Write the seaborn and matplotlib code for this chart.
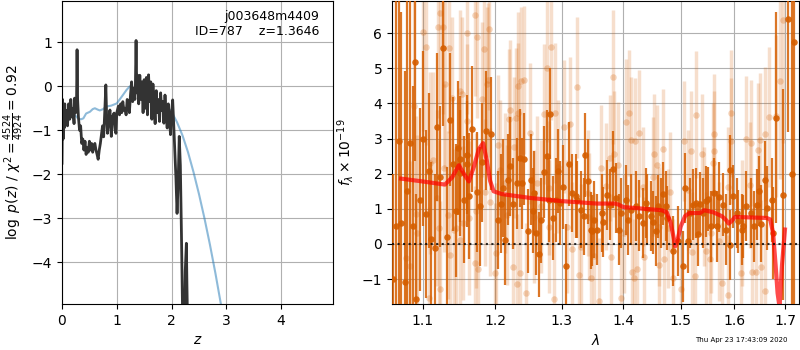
import numpy as np
import matplotlib
matplotlib.use('Agg')
import matplotlib.pyplot as plt
from matplotlib.ticker import FormatStrFormatter, NullLocator
import seaborn as sns

# p(z) panel
z_grid = [0.0, 0.01, 0.02, 0.03, 0.04, 0.05, 0.06, 0.08, 0.10, 0.12, 0.14, 0.16, 0.18, 0.20,
          0.22, 0.23, 0.25, 0.265, 0.275, 0.285, 0.30, 0.32, 0.34, 0.36, 0.38, 0.40, 0.42,
          0.44, 0.46, 0.48, 0.50, 0.52, 0.54, 0.56, 0.58, 0.60, 0.62, 0.64, 0.66, 0.68, 0.70,
          0.72, 0.74, 0.76, 0.78, 0.80, 0.815, 0.83, 0.85, 0.875, 0.89, 0.90, 0.92, 0.95,
          0.97, 0.985, 1.00, 1.03, 1.05, 1.07, 1.09, 1.11, 1.13, 1.15, 1.17, 1.19, 1.21, 1.23,
          1.25, 1.27, 1.29, 1.31, 1.33, 1.34, 1.352, 1.365, 1.38, 1.40, 1.42, 1.44, 1.46, 1.48,
          1.50, 1.52, 1.54, 1.56, 1.58, 1.60, 1.62, 1.64, 1.66, 1.68, 1.70, 1.72, 1.74, 1.76,
          1.78, 1.80, 1.82, 1.84, 1.86, 1.88, 1.90, 1.92, 1.94, 1.96, 1.98, 2.00, 2.02, 2.04,
          2.06, 2.08, 2.10, 2.12, 2.14, 2.16, 2.18, 2.19, 2.21, 2.23, 2.25, 2.27, 2.28, 2.30,
          2.32]
logpz = [-1.75, -0.30, -1.20, -0.50, -0.95, -0.40, -0.85, -0.55, -0.90, -0.40, -0.75, -0.30,
         -0.70, -0.50, -0.85, -0.27, -0.60, -0.40, 0.83, -0.30, -0.70, -1.00, -0.90, -1.30,
         -1.20, -1.45, -1.25, -1.55, -1.40, -1.50, -1.25, -1.45, -1.30, -1.50, -1.35, -1.30,
         -1.45, -1.55, -1.66, -1.45, -1.30, -1.10, -0.90, -1.15, -0.60, 0.03, -0.70, -1.07,
         -0.80, -0.54, -0.90, -1.14, -0.70, -0.61, -1.00, -1.07, -0.60, -0.45, -0.65, -0.40,
         -0.60, -0.35, -0.55, -0.50, -0.65, -0.30, -0.45, -0.60, -0.20, 0.10, -0.35, -0.05,
         -0.30, 0.05, 1.04, -0.15, 0.25, -0.40, 0.25, -0.30, 0.10, -0.60, 0.15, -0.50, 0.20,
         -0.65, 0.26, -0.35, 0.10, -0.75, 0.05, -0.45, -0.85, -0.10, -0.60, -0.30, -0.80,
         -0.15, -0.55, -0.35, -0.84, -0.20, -0.65, -0.95, -0.40, -0.70, -1.10, -0.60, -0.31,
         -0.90, -1.50, -2.10, -2.89, -2.20, -1.14, -1.80, -3.34, -4.20, -6.00, -6.00, -4.20,
         -3.57, -4.50, -6.00, -6.00]

z_smooth = [0.0, 0.02, 0.05, 0.08, 0.12, 0.17, 0.21, 0.26, 0.30, 0.35, 0.39, 0.44, 0.51,
            0.56, 0.60, 0.65, 0.69, 0.75, 0.81, 0.90, 1.00, 1.10, 1.18, 1.24, 1.30, 1.38,
            1.46, 1.54, 1.60, 1.70, 1.80, 1.90, 2.00, 2.10, 2.20, 2.30, 2.40, 2.50, 2.60,
            2.70, 2.80, 2.90, 2.95]
logpz_smooth = [-1.10, -1.00, -0.80, -0.70, -0.64, -0.61, -0.62, -0.69, -0.74, -0.75, -0.73,
                -0.62, -0.58, -0.52, -0.50, -0.53, -0.55, -0.52, -0.46, -0.44, -0.39, -0.22,
                -0.08, 0.00, -0.05, -0.10, -0.15, -0.20, -0.23, -0.30, -0.38, -0.46, -0.58,
                -0.82, -1.12, -1.50, -1.95, -2.45, -3.00, -3.60, -4.25, -4.95, -5.30]

# spectrum panel (G141, flux x 1e-19)
lam_d = [1.062, 1.065, 1.069, 1.072, 1.077, 1.080, 1.083, 1.087, 1.090, 1.092, 1.097, 1.101,
         1.104, 1.108, 1.111, 1.116, 1.119, 1.123, 1.127, 1.133, 1.137, 1.141, 1.145, 1.148,
         1.150, 1.151, 1.156, 1.160, 1.161, 1.163, 1.168, 1.174, 1.179, 1.181, 1.187, 1.195,
         1.205, 1.208, 1.211, 1.215, 1.219, 1.222, 1.227, 1.232, 1.236, 1.239, 1.243, 1.248,
         1.253, 1.256, 1.257, 1.260, 1.265, 1.268, 1.273, 1.277, 1.280, 1.282, 1.286, 1.291,
         1.294, 1.297, 1.302, 1.307, 1.312, 1.316, 1.322, 1.325, 1.330, 1.335, 1.337, 1.342,
         1.346, 1.349, 1.351, 1.357, 1.365, 1.367, 1.373, 1.378, 1.383, 1.387, 1.392, 1.396,
         1.404, 1.408, 1.413, 1.421, 1.426, 1.433, 1.438, 1.441, 1.448, 1.450, 1.456, 1.460,
         1.465, 1.468, 1.474, 1.476, 1.486, 1.495, 1.504, 1.507, 1.513, 1.516, 1.522, 1.528,
         1.532, 1.536, 1.540, 1.546, 1.550, 1.556, 1.562, 1.567, 1.571, 1.578, 1.584, 1.591,
         1.592, 1.598, 1.604, 1.606, 1.614, 1.617, 1.623, 1.633, 1.637, 1.643, 1.647, 1.652,
         1.659, 1.664, 1.673, 1.676, 1.682, 1.695, 1.706, 1.714, 1.718]
flux_d = [-1.00, 0.50, 2.93, 0.60, -1.07, 1.50, 2.87, 0.50, 5.17, -1.57, 1.26, 3.00, 0.85,
          2.09, 0.14, -0.11, 3.33, 1.92, 5.57, 0.20, 3.54, 2.27, 0.95, 2.73, 2.02, 2.42, 1.26,
          2.27, 2.54, 1.36, 3.27, 1.48, 1.07, 2.32, 3.23, 3.14, 0.69, 1.15, 1.59, 0.12, 1.83,
          2.21, 1.15, 1.73, 2.45, 1.73, 2.42, 0.36, 1.83, 0.95, 1.45, 0.31, -0.30, 0.67, 2.05,
          2.51, 1.26, 3.71, 0.74, 1.26, 2.07, 1.17, 1.62, -0.64, 2.28, 1.45, 1.36, 1.26, 0.98,
          0.79, 2.54, 1.78, 0.39, 0.38, 0.69, 0.41, 0.88, 0.62, 1.40, 1.12, 2.13, 1.31, 0.41,
          0.88, 1.26, 0.69, 0.98, 1.07, 0.81, 0.60, 1.17, 1.00, 0.79, 0.62, 0.36, 1.07, 0.88,
          1.43, 1.07, 0.74, -0.21, 0.08, -0.64, 1.59, 0.08, 0.88, 1.12, 1.17, 0.27, 1.15, 0.88,
          1.21, 1.28, 0.50, 1.45, 0.50, 1.34, 1.12, 0.41, -0.02, 2.11, 1.36, 0.88, 0.64, 0.41,
          0.50, 1.07, 0.88, 0.50, 1.12, 1.50, 0.58, 1.83, 1.02, 1.26, 0.31, 3.60, 1.40, 6.40,
          2.00, 5.74]
err_d = [3.0, 8.0, 5.0, 6.0, 6.0, 6.0, 5.0, 4.0, 2.8, 3.0, 2.6, 2.5, 2.4, 2.2, 2.2, 2.1, 2.1,
         2.0, 2.2, 2.0, 1.9, 1.9, 1.9, 1.9, 1.8, 1.8, 1.8, 1.8, 1.7, 1.8, 1.8, 1.7, 1.7, 1.7,
         1.7, 1.6, 1.4, 1.4, 1.4, 1.3, 1.3, 1.4, 1.3, 1.3, 1.4, 1.3, 1.3, 1.2, 1.3, 1.2, 1.2,
         1.2, 1.2, 1.2, 1.3, 1.3, 1.2, 1.3, 1.2, 1.2, 1.2, 1.2, 1.2, 1.2, 1.2, 1.1, 1.2, 1.1,
         1.1, 1.1, 1.2, 1.2, 1.1, 1.0, 1.1, 1.0, 1.1, 1.0, 1.0, 1.0, 1.1, 1.0, 1.0, 1.0, 1.0,
         1.0, 1.0, 1.0, 1.0, 1.0, 1.0, 1.0, 1.0, 0.9, 1.0, 0.9, 1.0, 0.9, 1.0, 0.9, 1.0, 1.0,
         1.0, 1.0, 0.9, 1.0, 1.0, 1.0, 0.9, 0.9, 1.0, 1.0, 0.9, 1.0, 1.0, 1.0, 1.0, 0.9, 1.0,
         1.0, 1.0, 0.9, 1.0, 0.9, 1.0, 0.9, 1.0, 1.0, 1.0, 1.0, 1.0, 1.1, 1.1, 1.2, 1.2, 1.3,
         3.0, 3.0, 3.2, 8.0, 10.0]

lam_l = [1.079, 1.083, 1.089, 1.091, 1.093, 1.101, 1.104, 1.109, 1.110, 1.114, 1.119, 1.121,
         1.122, 1.123, 1.124, 1.128, 1.129, 1.130, 1.134, 1.135, 1.137, 1.139, 1.142, 1.145,
         1.150, 1.151, 1.153, 1.155, 1.160, 1.161, 1.163, 1.171, 1.172, 1.173, 1.175, 1.176,
         1.182, 1.184, 1.186, 1.188, 1.190, 1.191, 1.193, 1.200, 1.201, 1.205, 1.207, 1.215,
         1.217, 1.220, 1.222, 1.227, 1.228, 1.230, 1.232, 1.233, 1.234, 1.237, 1.238, 1.243,
         1.246, 1.252, 1.257, 1.262, 1.268, 1.273, 1.278, 1.280, 1.281, 1.283, 1.288, 1.289,
         1.294, 1.303, 1.309, 1.313, 1.317, 1.325, 1.327, 1.330, 1.342, 1.344, 1.346, 1.351,
         1.359, 1.363, 1.371, 1.377, 1.379, 1.383, 1.385, 1.391, 1.396, 1.402, 1.405, 1.410,
         1.413, 1.414, 1.418, 1.419, 1.424, 1.426, 1.433, 1.435, 1.451, 1.453, 1.457, 1.461,
         1.462, 1.468, 1.470, 1.478, 1.480, 1.486, 1.501, 1.506, 1.513, 1.519, 1.520, 1.525,
         1.527, 1.538, 1.543, 1.546, 1.553, 1.556, 1.559, 1.561, 1.562, 1.570, 1.577, 1.587,
         1.588, 1.593, 1.594, 1.612, 1.614, 1.623, 1.630, 1.633, 1.634, 1.642, 1.645, 1.650,
         1.651, 1.659, 1.660, 1.668, 1.681, 1.689, 1.695]
flux_l = [-0.40, -0.64, 3.93, 0.85, 0.30, 6.03, 5.62, -1.55, 2.30, 2.40, 1.30, 6.19, 0.45,
          -1.29, 6.59, 6.19, 2.16, 4.56, 0.83, 5.57, -0.31, 4.15, 0.41, 0.45, 4.36, 0.11, 4.27,
          0.59, 6.00, 3.49, 0.74, 6.52, -0.55, 0.95, 5.89, -0.70, 4.12, 5.55, 1.47, 4.56, 4.67,
          6.11, 1.20, -0.84, -0.27, 2.82, 2.11, 1.73, 0.83, 3.56, 3.82, -0.66, 2.75, 3.58,
          -1.14, 3.72, 4.50, -0.84, 4.65, 4.67, -1.40, 3.15, 0.78, 1.73, 1.07, 3.70, 5.00,
          1.59, 0.49, 5.62, -1.58, 3.73, 2.20, 3.34, 0.49, 3.42, -0.15, 4.46, -0.88, -0.08,
          1.45, 0.78, -0.97, -0.35, -1.63, 2.16, 1.64, 2.44, -0.38, 4.75, 2.56, 2.25, -1.55,
          0.30, 3.47, 3.73, 2.96, -0.79, -0.98, 2.92, -0.72, 3.15, 1.63, -0.36, 1.92, 2.56,
          2.25, 0.49, -0.60, 2.70, -0.43, 0.44, 1.49, -0.98, -1.29, 2.93, 1.54, 2.66, -0.22,
          -0.92, 3.68, 2.56, 1.06, -0.21, -0.43, 0.30, 2.30, 2.66, 3.13, 0.07, -1.10, -1.45,
          1.63, 2.93, 3.72, -0.84, 0.59, 2.98, 1.68, 2.87, -0.79, -0.79, 2.68, 2.96, -0.66,
          3.13, -1.33, 3.61, 3.65, 4.65, 6.38]
err_l = [3.2, 3.0, 3.0, 2.8, 2.8, 2.8, 2.8, 2.6, 2.6, 2.5, 2.5, 2.6, 2.5, 2.5, 2.6, 2.5, 2.4,
         2.4, 2.4, 2.4, 2.3, 2.3, 2.3, 2.3, 2.3, 2.2, 2.2, 2.2, 2.3, 2.2, 2.2, 2.3, 2.2, 2.2,
         2.3, 2.1, 2.2, 2.3, 2.1, 2.2, 2.2, 2.3, 2.1, 2.0, 2.0, 2.0, 2.0, 2.0, 2.0, 2.0, 2.0,
         2.0, 2.0, 2.0, 2.0, 2.0, 2.1, 2.0, 2.1, 2.1, 2.0, 2.0, 1.9, 1.9, 1.9, 2.0, 2.1, 1.9,
         1.9, 2.1, 1.9, 2.0, 1.9, 1.9, 1.9, 1.9, 1.9, 2.0, 1.9, 1.8, 1.8, 1.8, 1.8, 1.8, 1.8,
         1.8, 1.8, 1.8, 1.8, 1.9, 1.8, 1.8, 1.8, 1.7, 1.8, 1.8, 1.8, 1.7, 1.7, 1.8, 1.7, 1.8,
         1.7, 1.7, 1.7, 1.7, 1.7, 1.7, 1.7, 1.7, 1.7, 1.7, 1.7, 1.7, 1.7, 1.7, 1.7, 1.7, 1.7,
         1.7, 1.8, 1.7, 1.7, 1.7, 1.7, 1.7, 1.7, 1.7, 1.7, 1.7, 1.7, 1.7, 1.7, 1.8, 1.8, 1.8,
         1.8, 1.8, 1.8, 1.8, 1.8, 1.8, 1.9, 1.9, 1.9, 1.9, 1.9, 2.0, 2.3, 2.8, 3.5]

model_lam = [1.072, 1.100, 1.130, 1.140, 1.149, 1.156, 1.163, 1.170, 1.177, 1.183, 1.188,
             1.193, 1.198, 1.210, 1.252, 1.300, 1.356, 1.386, 1.392, 1.400, 1.466, 1.475,
             1.482, 1.487, 1.490, 1.494, 1.500, 1.508, 1.516, 1.535, 1.543, 1.560, 1.576,
             1.584, 1.589, 1.595, 1.601, 1.620, 1.663, 1.670, 1.676, 1.681, 1.685, 1.689,
             1.694, 1.700]
model_flux = [1.86, 1.78, 1.69, 1.90, 2.24, 2.00, 1.78, 2.20, 2.70, 2.87, 2.40, 1.80, 1.50,
              1.42, 1.31, 1.22, 1.15, 1.15, 1.12, 1.05, 0.96, 0.90, 0.60, 0.20, -0.07, 0.10,
              0.50, 0.80, 0.88, 0.88, 0.96, 0.90, 0.79, 0.68, 0.58, 0.66, 0.77, 0.76, 0.74,
              0.70, 0.31, -0.60, -1.40, -1.80, -0.60, 0.41]

lam_ticks = [1.1, 1.2, 1.3, 1.4, 1.5, 1.6, 1.7]
g141_color = '#d55e00'

fig = plt.figure(figsize=(8, 3.5), dpi=100)
ax1 = fig.add_axes([0.0775, 0.1314, 0.339, 0.866])
ax2 = fig.add_axes([0.49, 0.1314, 0.5088, 0.866])

# left: redshift probability
sns.lineplot(x=z_smooth, y=logpz_smooth, ax=ax1, color='tab:blue', alpha=0.5, lw=1.5)
sns.lineplot(x=z_grid, y=logpz, ax=ax1, color='0.2', lw=2)
ax1.set_xlim(0, 4.95)
ax1.set_ylim(-4.95, 1.94)
ax1.set_xticks([0, 1, 2, 3, 4])
ax1.grid(True)
ax1.set_xlabel('$z$')
ax1.set_ylabel(r'$\log\ p(z)$ / $\chi^2=\frac{4524}{4924}=0.92$')
ax1.text(0.95, 0.97, 'j003648m4409\nID=787    z=1.3646', ha='right', va='top',
         transform=ax1.transAxes, fontsize=9)

# right: spectrum
ax2.errorbar(lam_l, flux_l, yerr=err_l, fmt='none', ecolor=g141_color, alpha=0.2,
             elinewidth=2.5, zorder=2)
sns.scatterplot(x=lam_l, y=flux_l, ax=ax2, color=g141_color, alpha=0.25, s=22,
                linewidth=0, zorder=2)
ax2.errorbar(lam_d, flux_d, yerr=err_d, fmt='none', ecolor=g141_color, alpha=0.85,
             elinewidth=1.6, zorder=3)
sns.scatterplot(x=lam_d, y=flux_d, ax=ax2, color=g141_color, alpha=0.9, s=22,
                linewidth=0, zorder=3)
sns.lineplot(x=model_lam, y=model_flux, ax=ax2, color='r', alpha=0.7, lw=3, zorder=4)
ax2.axhline(0, color='k', ls=':', lw=1.5, alpha=0.8, zorder=5)

ax2.set_xscale('log')
ax2.set_xlim(1.0604, 1.729)
ax2.set_ylim(-1.71, 6.92)
ax2.set_xticks(lam_ticks)
ax2.xaxis.set_major_formatter(FormatStrFormatter('%.1f'))
ax2.xaxis.set_minor_locator(NullLocator())
ax2.grid(True)
ax2.set_xlabel(r'$\lambda$')
ax2.set_ylabel(r'$f_\lambda\times10^{-19}$')

fig.text(0.985, 0.02, 'Thu Apr 23 17:43:09 2020', ha='right', va='bottom', fontsize=5)

fig.savefig('out.png', dpi=100)
